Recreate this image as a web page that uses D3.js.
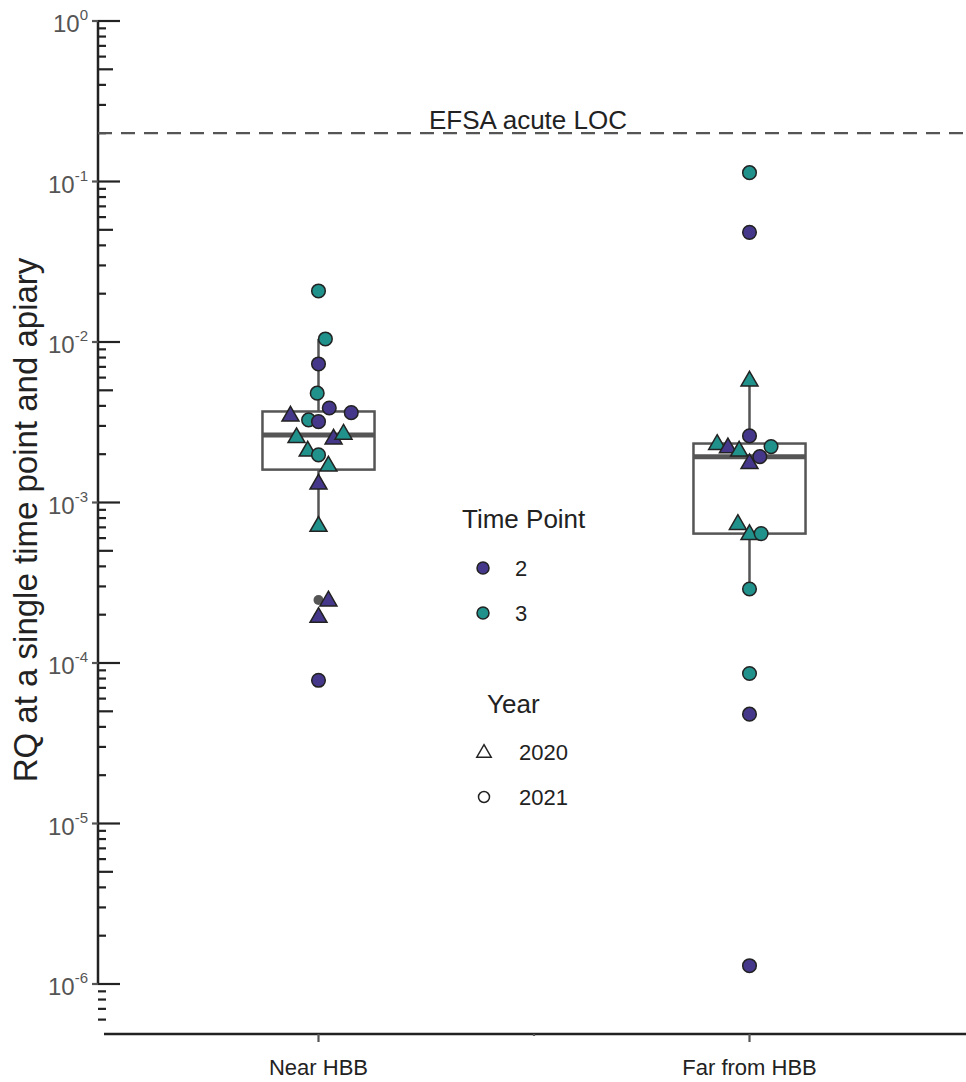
<!DOCTYPE html>
<html>
<head>
<meta charset="utf-8">
<script src="https://cdn.jsdelivr.net/npm/d3@7"></script>
<style>
  body { margin: 0; background: #fff; }
  text { font-family: "Liberation Sans", Arial, sans-serif; }
</style>
</head>
<body>
<svg id="chart" width="966" height="1082"></svg>
<script>
var categories = ['Near HBB', 'Far from HBB'];

// near HBB (draw order)
var nearValues = [0.0208, 0.01045, 0.0073, 0.0048, 0.00388, 0.00363, 0.00327, 0.00319, 0.0035, 0.00257,
  0.00212, 0.00198, 0.00252, 0.0027, 0.00171, 0.00132, 0.00072, 0.000247, 0.000195, 0.000078];
var nearTime = [3, 3, 2, 3, 2, 2, 3, 2, 2, 3, 3, 3, 2, 3, 3, 2, 3, 2, 2, 2];
var nearYear = [2021, 2021, 2021, 2021, 2021, 2021, 2021, 2021, 2020, 2020,
  2020, 2021, 2020, 2020, 2020, 2020, 2020, 2020, 2020, 2021];
var nearJitter = [0, 0.016, 0, -0.003, 0.025, 0.076, -0.023, 0, -0.065, -0.051,
  -0.025, 0, 0.035, 0.058, 0.023, 0, 0, 0.023, 0, 0];

// far from HBB
var farValues = [0.1135, 0.0482, 0.00579, 0.0026, 0.00233, 0.00222, 0.00212, 0.00223, 0.00193, 0.00177,
  0.00074, 0.00064, 0.00064, 0.000289, 0.000086, 0.000048, 0.0000013];
var farTime = [3, 2, 3, 2, 3, 2, 3, 3, 2, 2, 3, 3, 3, 3, 3, 2, 2];
var farYear = [2021, 2021, 2020, 2021, 2020, 2020, 2020, 2021, 2021, 2020, 2020, 2020, 2021, 2021, 2021, 2021, 2021];
var farJitter = [0, 0, 0, 0, -0.075, -0.05, -0.024, 0.05, 0.024, 0, -0.027, 0, 0.027, 0, 0, 0, 0];

var timePoints = [2, 3];
var timeColors = ['#45388a', '#21918c'];
var years = [2020, 2021];
var locValue = 0.2;
var locLabel = 'EFSA acute LOC';
var yTitle = 'RQ at a single time point and apiary';
var yExponents = [0, -1, -2, -3, -4, -5, -6];

var svg = d3.select('#chart');

var x = d3.scaleLinear().domain([0.5, 2.5]).range([103, 965]);
var y = d3.scaleLog().domain([1e-6, 1]).range([984, 21]);
var color = d3.scaleOrdinal().domain(timePoints).range(timeColors);

var groups = [
  { name: categories[0], idx: 1, v: nearValues, t: nearTime, yr: nearYear, j: nearJitter },
  { name: categories[1], idx: 2, v: farValues, t: farTime, yr: farYear, j: farJitter }
];

var axisCol = '#222', boxCol = '#555';

// y axis line + log ticks
var axisX = 98;
svg.append('line')
  .attr('x1', axisX).attr('x2', axisX)
  .attr('y1', y(1)).attr('y2', y(1e-6))
  .attr('stroke', axisCol).attr('stroke-width', 2.5);

var logTicks = [];
for (var e = -7; e <= 0; e++) {
  for (var m = 1; m <= 9; m++) {
    var val = m * Math.pow(10, e);
    if (val > 1.0001 || val < 5.5e-7) continue;
    logTicks.push({ v: val, m: m });
  }
}
svg.append('g').selectAll('line').data(logTicks).join('line')
  .attr('x1', axisX)
  .attr('x2', function(d) { return axisX + (d.m == 1 ? 22 : d.m == 5 ? 15 : 8); })
  .attr('y1', function(d) { return y(d.v); })
  .attr('y2', function(d) { return y(d.v); })
  .attr('stroke', axisCol).attr('stroke-width', 2.2);

// small outer ticks + labels
var yl = svg.append('g');
yExponents.forEach(function(ex) {
  var yy = y(Math.pow(10, ex));
  yl.append('line')
    .attr('x1', axisX - 6).attr('x2', axisX)
    .attr('y1', yy).attr('y2', yy)
    .attr('stroke', boxCol).attr('stroke-width', 2.2);
  var t = yl.append('text')
    .attr('x', 88).attr('y', yy + 11)
    .attr('text-anchor', 'end')
    .attr('fill', '#555')
    .style('font-size', '24px');
  t.append('tspan').text('10');
  t.append('tspan').attr('dy', -12).style('font-size', '15px').text(String(ex));
});

svg.append('text')
  .attr('transform', 'translate(37,520) rotate(-90)')
  .attr('text-anchor', 'middle')
  .attr('fill', '#222')
  .style('font-size', '33px')
  .text(yTitle);

// x axis
var axisY = 1034;
svg.append('line')
  .attr('x1', 104).attr('x2', 966)
  .attr('y1', axisY).attr('y2', axisY)
  .attr('stroke', axisCol).attr('stroke-width', 2.5);
svg.append('g').selectAll('line').data([1, 1.5, 2]).join('line')
  .attr('x1', function(d) { return x(d); })
  .attr('x2', function(d) { return x(d); })
  .attr('y1', axisY)
  .attr('y2', function(d) { return axisY + (d % 1 ? 2 : 8); })
  .attr('stroke', boxCol).attr('stroke-width', 2.2);
svg.append('g').selectAll('text').data(groups).join('text')
  .attr('x', function(d) { return x(d.idx); })
  .attr('y', 1075)
  .attr('text-anchor', 'middle')
  .attr('fill', '#222')
  .style('font-size', '22px')
  .text(function(d) { return d.name; });

// LOC line
svg.append('line')
  .attr('x1', axisX).attr('x2', 966)
  .attr('y1', y(locValue)).attr('y2', y(locValue))
  .attr('stroke', '#555').attr('stroke-width', 2.2)
  .attr('stroke-dasharray', '14,9');
svg.append('text')
  .attr('x', 528).attr('y', y(locValue) - 4)
  .attr('text-anchor', 'middle')
  .attr('fill', '#222')
  .style('font-size', '26px')
  .text(locLabel);

// boxplots (stats on log scale)
var boxW = 0.26;
groups.forEach(function(g) {
  var logs = g.v.map(function(v) { return Math.log10(v); }).sort(d3.ascending);
  var q1 = d3.quantile(logs, 0.25), med = d3.quantile(logs, 0.5), q3 = d3.quantile(logs, 0.75);
  var iqr = q3 - q1;
  var inside = logs.filter(function(l) { return l >= q1 - 1.5 * iqr && l <= q3 + 1.5 * iqr; });
  var lo = d3.min(inside), hi = d3.max(inside);
  var outl = logs.filter(function(l) { return l < q1 - 1.5 * iqr || l > q3 + 1.5 * iqr; });
  var cx = x(g.idx);
  var p = function(l) { return y(Math.pow(10, l)); };
  var bg = svg.append('g');
  bg.append('line').attr('x1', cx).attr('x2', cx).attr('y1', p(hi)).attr('y2', p(q3))
    .attr('stroke', boxCol).attr('stroke-width', 2.5);
  bg.append('line').attr('x1', cx).attr('x2', cx).attr('y1', p(q1)).attr('y2', p(lo))
    .attr('stroke', boxCol).attr('stroke-width', 2.5);
  bg.append('rect')
    .attr('x', x(g.idx - boxW / 2)).attr('width', x(g.idx + boxW / 2) - x(g.idx - boxW / 2))
    .attr('y', p(q3)).attr('height', p(q1) - p(q3))
    .attr('fill', '#fff').attr('stroke', boxCol).attr('stroke-width', 2.5);
  bg.append('line')
    .attr('x1', x(g.idx - boxW / 2)).attr('x2', x(g.idx + boxW / 2))
    .attr('y1', p(med)).attr('y2', p(med))
    .attr('stroke', boxCol).attr('stroke-width', 5);
  bg.selectAll('circle').data(outl).join('circle')
    .attr('cx', cx).attr('cy', function(d) { return p(d); })
    .attr('r', 5).attr('fill', boxCol);
});

// points
var tri = d3.symbol().type(d3.symbolTriangle).size(125);
groups.forEach(function(g) {
  var pts = g.v.map(function(v, i) { return { v: v, t: g.t[i], yr: g.yr[i], xx: g.idx + g.j[i] }; });
  var pg = svg.append('g');
  pts.forEach(function(d) {
    if (d.yr == 2020) {
      pg.append('path')
        .attr('d', tri)
        .attr('transform', 'translate(' + x(d.xx) + ',' + (y(d.v) + 1) + ')')
        .attr('fill', color(d.t)).attr('stroke', '#222').attr('stroke-width', 1.5);
    } else {
      pg.append('circle')
        .attr('cx', x(d.xx)).attr('cy', y(d.v)).attr('r', 6.8)
        .attr('fill', color(d.t)).attr('stroke', '#222').attr('stroke-width', 1.5);
    }
  });
});

// legend
var lg = svg.append('g');
lg.append('text').attr('x', 462).attr('y', 528).attr('fill', '#222')
  .style('font-size', '26px').text('Time Point');
timePoints.forEach(function(tp, i) {
  var yy = 568 + i * 45;
  lg.append('circle').attr('cx', 483).attr('cy', yy).attr('r', 6)
    .attr('fill', color(tp)).attr('stroke', '#222').attr('stroke-width', 1.5);
  lg.append('text').attr('x', 515).attr('y', yy + 8).attr('fill', '#222')
    .style('font-size', '22px').text(tp);
});
lg.append('text').attr('x', 487).attr('y', 713).attr('fill', '#222')
  .style('font-size', '26px').text('Year');
years.forEach(function(yr, i) {
  var yy = 752 + i * 45;
  if (yr == 2020) {
    lg.append('path').attr('d', d3.symbol().type(d3.symbolTriangle).size(90))
      .attr('transform', 'translate(484,' + (yy + 1) + ')')
      .attr('fill', 'none').attr('stroke', '#222').attr('stroke-width', 1.5);
  } else {
    lg.append('circle').attr('cx', 484).attr('cy', yy).attr('r', 5.5)
      .attr('fill', 'none').attr('stroke', '#222').attr('stroke-width', 1.5);
  }
  lg.append('text').attr('x', 519).attr('y', yy + 8).attr('fill', '#222')
    .style('font-size', '22px').text(yr);
});
</script>
</body>
</html>
